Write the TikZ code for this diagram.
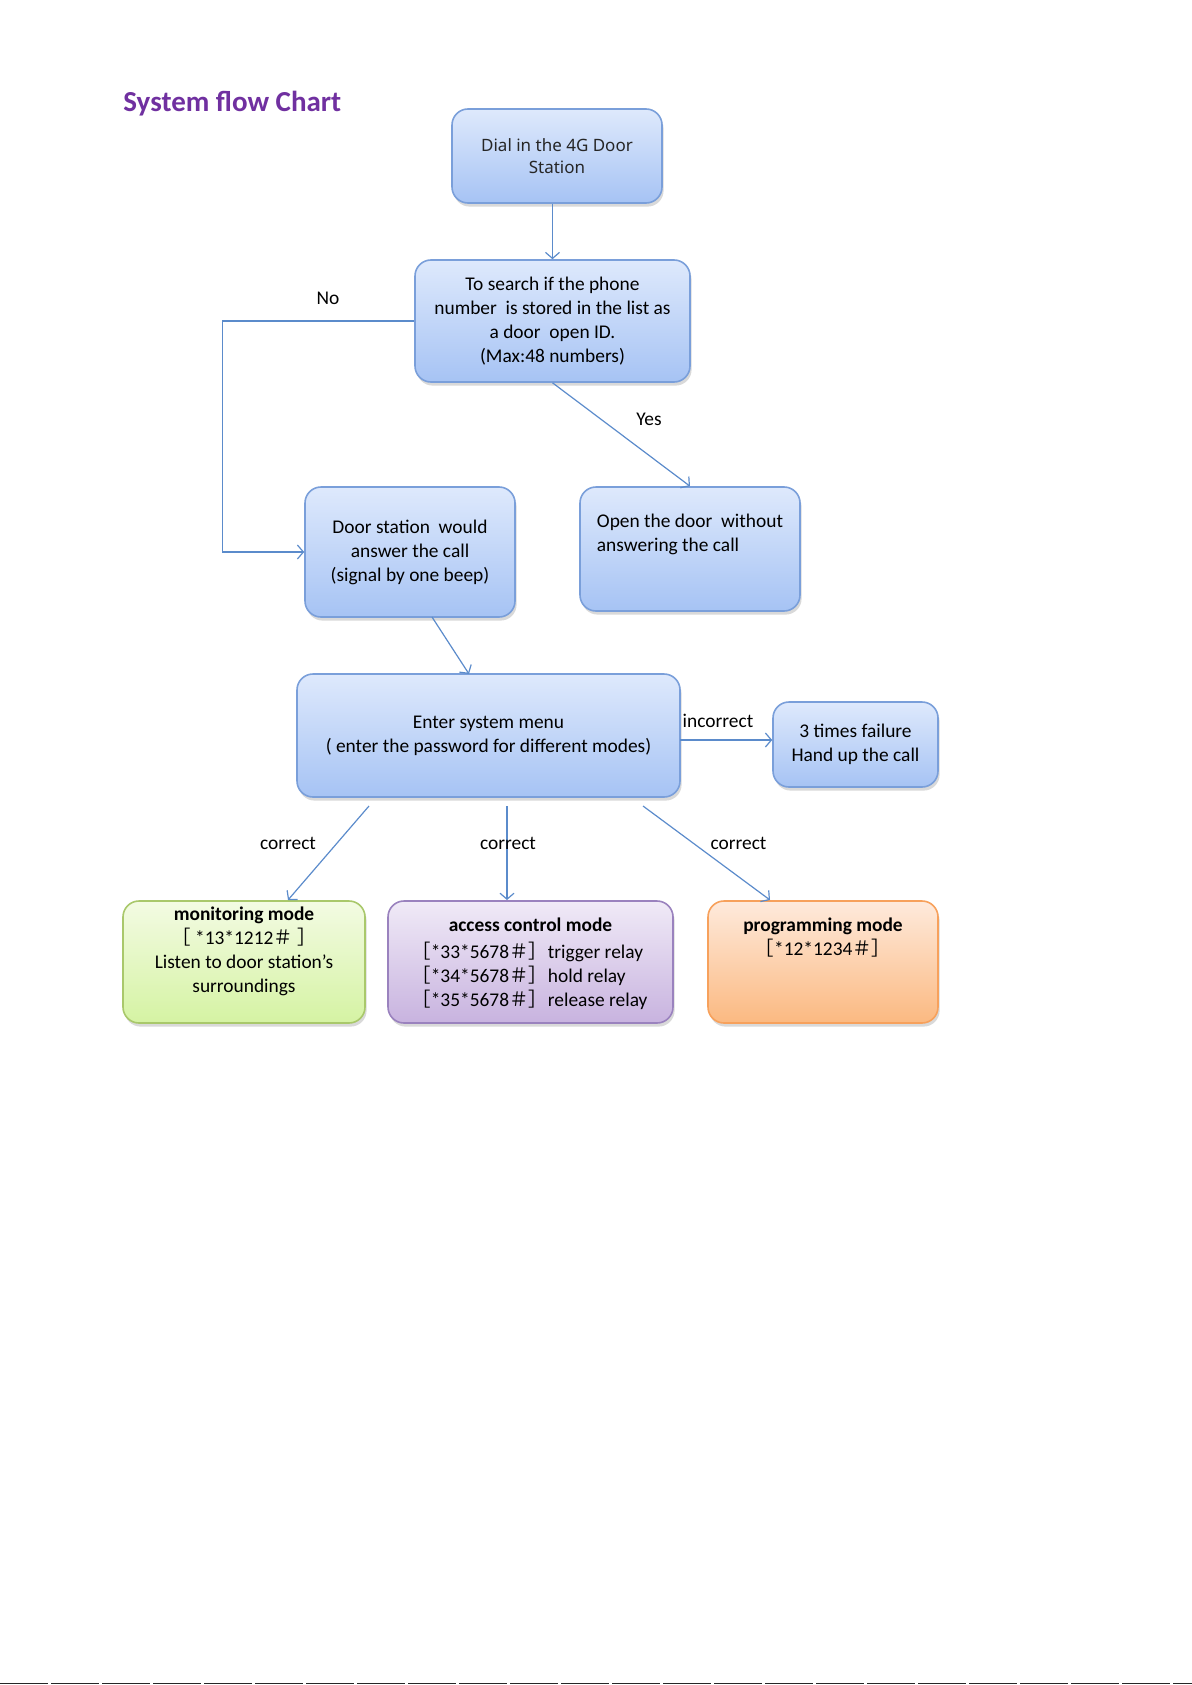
\documentclass[tikz,border=0pt]{standalone}
\usepackage{fontspec}
\setmainfont{Carlito}
\newfontfamily\cjk{Noto Sans CJK SC}
\newfontfamily\dialfont{Noto Sans}
\usetikzlibrary{arrows.meta,shadows,calc}
\definecolor{ttl}{HTML}{7030A0}
\definecolor{lnc}{HTML}{5B8BCB}
\definecolor{bline}{HTML}{7A9FDA}
\definecolor{btop}{HTML}{DEE9FC}
\definecolor{bbot}{HTML}{A6C3F4}
\definecolor{gline}{HTML}{A9C86B}
\definecolor{gtop}{HTML}{F3FBE3}
\definecolor{gbot}{HTML}{D5F3A3}
\definecolor{pline}{HTML}{9A82BE}
\definecolor{ptop}{HTML}{F0EAF7}
\definecolor{pbot}{HTML}{C8B3DF}
\definecolor{oline}{HTML}{F7A15C}
\definecolor{otop}{HTML}{FEEADC}
\definecolor{obot}{HTML}{FBB981}
\newcommand{\LBk}{{\cjk ［}}
\newcommand{\RBk}{{\cjk ］}}
\newcommand{\HSh}{{\cjk ＃}}
\tikzset{
  boxbase/.style={line width=0.8pt, rounded corners=8pt, inner sep=0pt,
    drop shadow={shadow xshift=0.8pt, shadow yshift=-1.8pt, opacity=0.3},
    align=center, font=\fontsize{9.7}{12}\selectfont},
  bluebox/.style={boxbase, draw=bline, top color=btop, bottom color=bbot},
  greenbox/.style={boxbase, draw=gline, top color=gtop, bottom color=gbot},
  purplebox/.style={boxbase, draw=pline, top color=ptop, bottom color=pbot},
  orangebox/.style={boxbase, draw=oline, top color=otop, bottom color=obot},
  arr/.style={draw=lnc, line width=0.6pt, -{Straight Barb[length=3pt,width=7pt]}},
  lbl/.style={font=\fontsize{9.7}{12}\selectfont, inner sep=0pt},
  intext/.style={font=\fontsize{9.7}{12}\selectfont, inner sep=0pt, align=center}
}
\begin{document}
\begin{tikzpicture}[x=0.5pt,y=-0.5pt]
\useasboundingbox (0,0) rectangle (1192,1685);
\node[anchor=west, inner sep=0pt, text=ttl, font=\fontsize{14.5}{16}\selectfont\bfseries] (title) at (123,104) {System flow Chart};

\node[bluebox, minimum width=105pt, minimum height=47pt, font=\dialfont\fontsize{8.5}{11.3}\selectfont, text=black!85] (dial) at (557,156) {Dial in the 4G Door\\Station};
\node[bluebox, minimum width=137.5pt, minimum height=61pt] (search) at (552.5,321) {To search if the phone\\number\ \ is stored in the list as\\a door\ \ open ID.\\(Max:48 numbers)};
\node[bluebox, minimum width=105pt, minimum height=65pt] (door) at (410,552) {Door station\ \ would\\answer the call\\(signal by one beep)};
\node[bluebox, minimum width=110pt, minimum height=62pt, align=left] (open) at (690,549) {Open the door\ \ without\\answering the call\\[4pt]\mbox{}};
\node[bluebox, minimum width=191.5pt, minimum height=61.5pt] (menu) at (488.5,735.5) {Enter system menu\\( enter the password for different modes)};
\node[bluebox, minimum width=82.5pt, minimum height=42.5pt] (fail) at (855.5,744.5) {3 times failure\\Hand up the call};

\node[greenbox, minimum width=121pt, minimum height=61pt] (mon) at (244,962) {};
\node[purplebox, minimum width=142.5pt, minimum height=61pt] (acc) at (530.5,962) {};
\node[orangebox, minimum width=115pt, minimum height=61pt] (prog) at (823,962) {};

\node[intext, anchor=north] (montext) at ([yshift=-3pt]mon.north) {\textbf{monitoring mode}\\\LBk\ *13*1212\HSh\ \RBk\\Listen to door station’s\\surroundings};
\node[intext, anchor=north] (acctitle) at ([yshift=-8.5pt]acc.north) {\textbf{access control mode}};
\node[intext, anchor=north west, align=left] (acctext) at (411,942) {\LBk*33*5678\HSh\RBk trigger relay\\\LBk*34*5678\HSh\RBk hold relay\\\LBk*35*5678\HSh\RBk release relay};
\node[intext, anchor=north] (progtext) at ([yshift=-8.5pt]prog.north) {\textbf{programming mode}\\\LBk*12*1234\HSh\RBk};

% connectors
\draw[arr] (search.north |- dial.south) -- (search.north);
\coordinate (nobend) at (222.5,0);
\draw[arr] (search.west) -- (search.west -| nobend) |- (door.west);
\node[lbl] (nolbl) at (328,298) {No};
\draw[arr] (search.south) -- (open.north);
\node[lbl] (yeslbl) at (649,419) {Yes};
\coordinate (d1) at (432,617);
\coordinate (m1) at (469,674);
\draw[arr] (d1) -- (m1);
\coordinate (inc) at (680,740);
\draw[arr] (inc) -- (fail.west |- inc);
\node[lbl] (inclbl) at (718,721) {incorrect};
\coordinate (s1) at (369,806);
\coordinate (e1) at (288,900);
\coordinate (s2) at (507,806);
\coordinate (e2) at (507,900);
\coordinate (s3) at (643,806);
\coordinate (e3) at (770,900);
\draw[arr] (s1) -- (e1);
\draw[arr] (s2) -- (e2);
\draw[arr] (s3) -- (e3);
\node[lbl] (c1) at (288,843) {correct};
\node[lbl] (c2) at (508,843) {correct};
\node[lbl] (c3) at (738.5,843) {correct};

\coordinate (bl) at (0,1683.5);
\coordinate (br) at (1192,1683.5);
\draw[black!85, line width=0.6pt, dash pattern=on 24pt off 1.5pt] (bl) -- (br);
\end{tikzpicture}
\end{document}
